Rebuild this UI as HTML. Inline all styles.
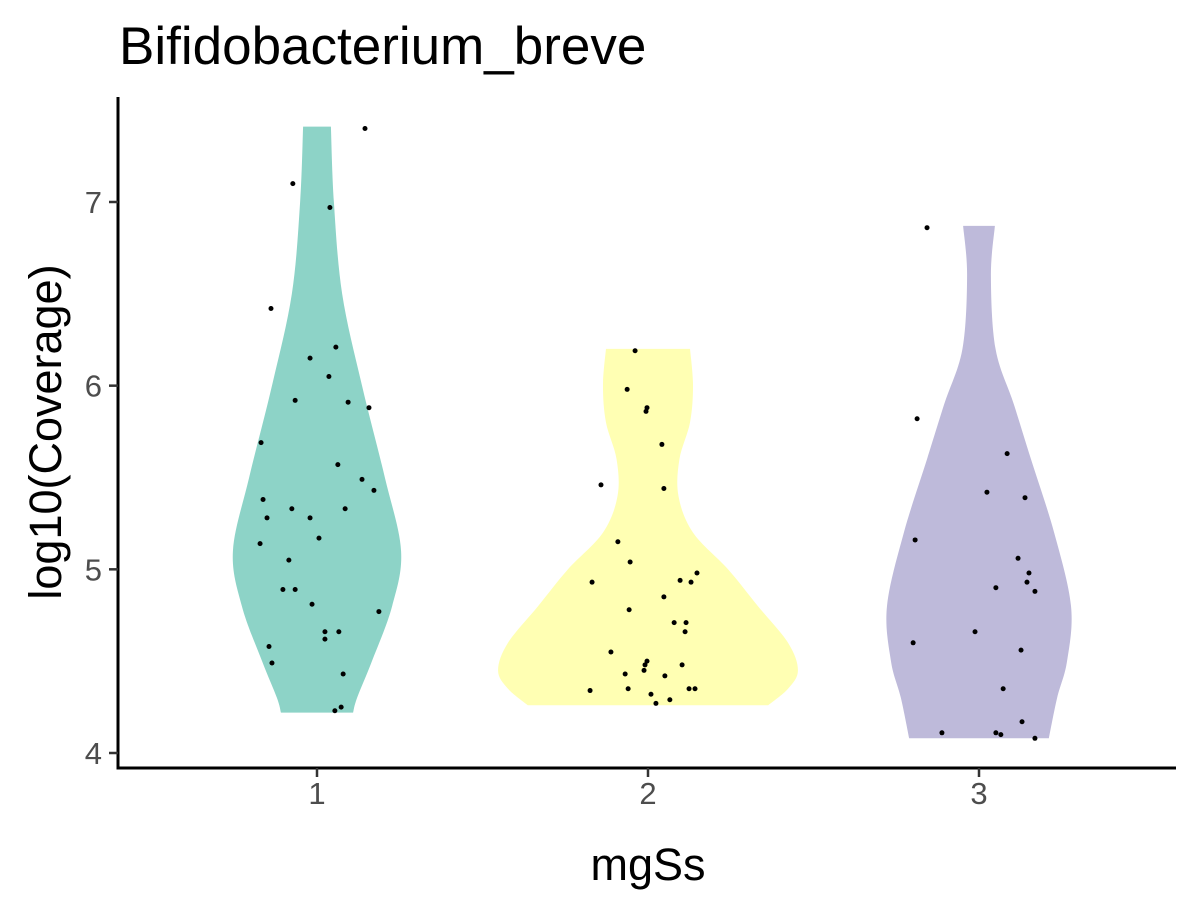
<!DOCTYPE html>
<html><head><meta charset="utf-8"><style>
html,body{margin:0;padding:0;background:#fff;}
svg{display:block;font-family:"Liberation Sans",Arial,sans-serif;}
</style></head><body>
<svg id="chart" width="1200" height="900">
<text x="119" y="64" font-size="53" fill="#000">Bifidobacterium_breve</text>
<g id="violins"></g>
<g id="points"></g>
<g id="axes"></g>
<text x="648" y="880" font-size="45" text-anchor="middle" fill="#000">mgSs</text>
<text transform="translate(61,432) rotate(-90)" font-size="45" text-anchor="middle" fill="#000">log10(Coverage)</text>
</svg>
<script>
const categories = ["1","2","3"];
const colors = ["#8DD3C7","#FFFFB3","#BEBADA"];
const yTicks = [4,5,6,7];
// violin density outline: y values and half-widths (in category units)
const dens1Y = [4.22,4.3,4.5,4.8,5.1,5.5,6.0,6.5,7.0,7.41];
const dens1W = [0.109,0.121,0.166,0.227,0.254,0.205,0.136,0.076,0.051,0.042];
const dens2Y = [4.26,4.35,4.45,4.6,4.8,5.0,5.2,5.4,5.6,5.8,6.0,6.2];
const dens2W = [0.363,0.423,0.453,0.423,0.332,0.242,0.136,0.092,0.095,0.127,0.136,0.127];
const dens3Y = [4.08,4.3,4.5,4.8,5.2,5.6,5.9,6.2,6.6,6.87];
const dens3W = [0.211,0.236,0.266,0.278,0.227,0.157,0.105,0.05,0.036,0.048];
// points
const pts1Val = [7.40,7.10,6.97,6.42,6.21,6.15,6.05,5.92,5.91,5.88,5.69,5.57,5.49,5.43,5.38,5.33,5.28,5.28,5.33,5.17,5.14,5.05,4.89,4.89,4.81,4.77,4.66,4.66,4.62,4.58,4.49,4.43,4.25,4.23];
const pts1Jit = [0.145,-0.073,0.039,-0.139,0.057,-0.021,0.036,-0.066,0.094,0.157,-0.169,0.063,0.136,0.172,-0.163,-0.076,-0.151,-0.021,0.085,0.006,-0.172,-0.085,-0.103,-0.066,-0.015,0.187,0.024,0.066,0.024,-0.145,-0.136,0.079,0.073,0.054];
const pts2Val = [6.19,5.98,5.88,5.86,5.68,5.46,5.44,5.15,5.04,4.93,4.94,4.98,4.93,4.85,4.78,4.71,4.71,4.66,4.55,4.48,4.50,4.48,4.45,4.43,4.42,4.29,4.32,4.27,4.35,4.35,4.34,4.35];
const pts2Jit = [-0.039,-0.063,-0.003,-0.006,0.042,-0.142,0.048,-0.091,-0.054,-0.169,0.097,0.148,0.130,0.048,-0.057,0.079,0.115,0.112,-0.112,0.103,-0.003,-0.009,-0.012,-0.069,0.051,0.066,0.009,0.024,0.124,0.142,-0.175,-0.060];
const pts3Val = [6.86,5.82,5.63,5.42,5.39,5.16,5.06,4.98,4.93,4.90,4.88,4.56,4.66,4.60,4.35,4.17,4.11,4.11,4.10,4.08];
const pts3Jit = [-0.157,-0.187,0.085,0.024,0.139,-0.193,0.118,0.151,0.145,0.051,0.169,0.127,-0.012,-0.199,0.073,0.130,-0.112,0.051,0.066,0.169];

const NS="http://www.w3.org/2000/svg";
function X(v){return 317+(v-1)*331;}
function Y(v){return 753-(v-4)*183.67;}
function mk(tag,attrs,parent){const e=document.createElementNS(NS,tag);for(const k in attrs)e.setAttribute(k,attrs[k]);parent.appendChild(e);return e;}
function smooth(p){let d="M"+p[0][0]+","+p[0][1];for(let i=0;i<p.length-1;i++){const p0=p[Math.max(0,i-1)],p1=p[i],p2=p[i+1],p3=p[Math.min(p.length-1,i+2)];const c1=[p1[0]+(p2[0]-p0[0])/6,p1[1]+(p2[1]-p0[1])/6],c2=[p2[0]-(p3[0]-p1[0])/6,p2[1]-(p3[1]-p1[1])/6];d+=" C"+c1[0]+","+c1[1]+" "+c2[0]+","+c2[1]+" "+p2[0]+","+p2[1];}return d;}
const dens=[[dens1Y,dens1W],[dens2Y,dens2W],[dens3Y,dens3W]];
const vg=document.getElementById("violins");
dens.forEach((dw,g)=>{
  const c=g+1,ys=dw[0],ws=dw[1];
  const right=ys.map((y,i)=>[X(c+ws[i]),Y(y)]);
  const left=ys.map((y,i)=>[X(c-ws[i]),Y(y)]).reverse();
  let d=smooth(right);
  d+=" L"+left[0][0]+","+left[0][1]+smooth(left).replace(/^M[^ C]+/,"")+" Z";
  const p=mk("path",{d:d,fill:colors[g],stroke:"none"},vg);
  
  
});
const pg=document.getElementById("points");
[[pts1Val,pts1Jit],[pts2Val,pts2Jit],[pts3Val,pts3Jit]].forEach((pv,g)=>{
  pv[0].forEach((v,i)=>{
    const c=mk("circle",{cx:X(g+1+pv[1][i]),cy:Y(v),r:2.5,fill:"#000"},pg);
    
    
  });
});
const ag=document.getElementById("axes");
let l=mk("line",{x1:118,y1:97,x2:118,y2:769.5,stroke:"#000","stroke-width":3},ag);


l=mk("line",{x1:116.5,y1:768,x2:1176,y2:768,stroke:"#000","stroke-width":3},ag);


yTicks.forEach(t=>{
  const tk=mk("line",{x1:109,y1:Y(t),x2:118,y2:Y(t),stroke:"#333","stroke-width":2.5},ag);
  
  
  const tx=mk("text",{x:102,y:Y(t)+11,"font-size":31,"text-anchor":"end",fill:"#4d4d4d"},ag);
  tx.textContent=t;
  
  
});
categories.forEach((c,i)=>{
  const tk=mk("line",{x1:X(i+1),y1:768,x2:X(i+1),y2:777,stroke:"#333","stroke-width":2.5},ag);
  
  
  const tx=mk("text",{x:X(i+1),y:804,"font-size":31,"text-anchor":"middle",fill:"#4d4d4d"},ag);
  tx.textContent=c;
  
  
});
</script>
</body></html>
